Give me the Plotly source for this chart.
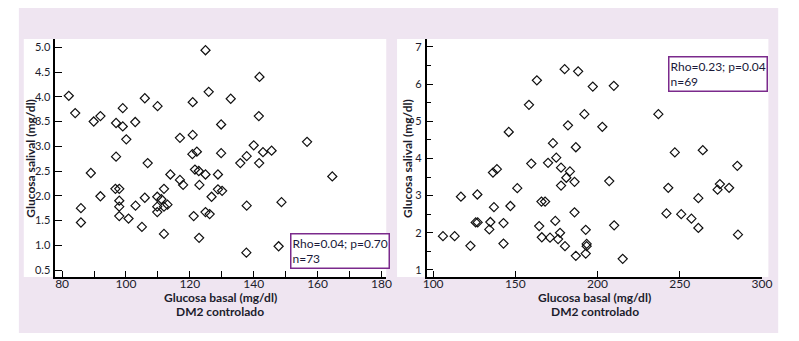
import plotly.graph_objects as go

# ---- Left panel data (Glucosa basal vs Glucosa salival) ----
left_x = [82.1, 84.1, 89.9, 92.0, 96.9, 99.0, 99.0, 102.9, 100.1, 105.9, 109.9, 96.9, 106.8, 89.0,
          124.9, 125.9, 120.9, 132.8, 141.8, 129.8, 141.6, 116.9, 120.9, 120.8, 122.2, 129.8, 140.0,
          137.8, 135.8, 142.9, 145.6, 141.7, 156.7, 164.6, 113.9, 116.9, 121.6, 122.8, 124.9, 128.8,
          117.9, 123.0, 128.8, 130.1, 126.8, 124.9, 126.2, 121.2, 122.9, 137.8, 137.7, 147.8, 148.7,
          85.9, 85.9, 92.0, 96.7, 97.9, 97.9, 97.9, 97.9, 103.0, 100.8, 105.9, 105.0, 109.8, 109.8,
          109.8, 111.1, 111.9, 111.9, 113.0, 111.9]
left_y = [4.02, 3.67, 3.50, 3.61, 3.47, 3.77, 3.40, 3.49, 3.14, 3.97, 3.81, 2.79, 2.66, 2.46,
          4.94, 4.10, 3.89, 3.96, 4.40, 3.44, 3.61, 3.17, 3.23, 2.84, 2.89, 2.86, 3.02,
          2.80, 2.66, 2.88, 2.91, 2.66, 3.09, 2.39, 2.43, 2.32, 2.53, 2.50, 2.43, 2.43,
          2.22, 2.22, 2.13, 2.10, 1.98, 1.67, 1.63, 1.59, 1.15, 1.80, 0.85, 0.98, 1.87,
          1.75, 1.46, 1.99, 2.14, 2.14, 1.90, 1.78, 1.59, 1.80, 1.54, 1.96, 1.37, 1.98, 1.78,
          1.67, 1.93, 2.14, 1.78, 1.82, 1.23]

# ---- Right panel data ----
right_x = [180.0, 188.2, 163.1, 197.1, 209.9, 158.3, 192.0, 237.0, 182.0, 202.9, 146.0, 172.9,
           186.8, 247.0, 264.0, 285.0, 159.7, 169.9, 174.9, 177.8, 183.2, 136.4, 138.8, 177.8,
           181.0, 186.0, 207.1, 151.2, 116.9, 126.9, 137.0, 147.0, 165.9, 168.1, 186.0, 106.0,
           113.1, 122.7, 125.9, 127.1, 134.8, 134.2, 142.8, 142.8, 164.5, 166.1, 174.3, 171.1,
           177.2, 176.0, 180.2, 186.8, 192.8, 192.8, 193.4, 193.4, 210.1, 215.3, 243.0, 241.9,
           250.9, 257.1, 261.3, 261.3, 273.0, 274.4, 280.0, 285.4]
right_y = [6.40, 6.34, 6.10, 5.93, 5.95, 5.44, 5.19, 5.19, 4.89, 4.85, 4.71, 4.41,
           4.30, 4.16, 4.22, 3.80, 3.86, 3.88, 4.02, 3.75, 3.65, 3.62, 3.71, 3.27,
           3.48, 3.37, 3.39, 3.20, 2.97, 3.03, 2.69, 2.72, 2.84, 2.84, 2.55, 1.91,
           1.91, 1.65, 2.28, 2.28, 2.29, 2.09, 2.26, 1.71, 2.18, 1.88, 2.32, 1.87,
           2.00, 1.83, 1.64, 1.38, 2.08, 1.44, 1.70, 1.64, 2.20, 1.30, 3.21, 2.52,
           2.50, 2.38, 2.93, 2.13, 3.16, 3.31, 3.21, 1.95]

left_xticks = [80, 100, 120, 140, 160, 180]
left_yticks = [0.5, 1.0, 1.5, 2.0, 2.5, 3.0, 3.5, 4.0, 4.5, 5.0]
right_xticks = [100, 150, 200, 250, 300]
right_yticks = [1, 2, 3, 4, 5, 6, 7]

x_title_1 = "Glucosa basal (mg/dl)"
x_title_2 = "DM2 controlado"
y_title = "Glucosa salival (mg/dl)"
left_stats = "Rho=0.04; p=0.70<br>n=73"
right_stats = "Rho=0.23; p=0.04<br>n=69"

# page body has an 8px margin: size the figure so it fits the 799x341 window
OFF = 8
W, H = 799 - OFF, 341 - OFF
FONT = "Lato"
TXT = "#1c1c2c"
LAV = "#efe5f1"
PURPLE = "#7b2a8c"


def px(x):
    return (x - OFF) / W


def py(y):
    return 1 - (y - OFF) / H


marker = dict(symbol="diamond-open", size=7, color="#111111", line=dict(width=1.2, color="#111111"))

fig = go.Figure()
fig.add_trace(go.Scatter(x=left_x, y=left_y, mode="markers", marker=marker,
                         xaxis="x", yaxis="y", showlegend=False, hoverinfo="x+y"))
fig.add_trace(go.Scatter(x=right_x, y=right_y, mode="markers", marker=marker,
                         xaxis="x2", yaxis="y2", showlegend=False, hoverinfo="x+y"))

axis_common = dict(showgrid=False, zeroline=False, showline=True, linecolor="black",
                   linewidth=1.5, ticks="inside", tickcolor="black", tickwidth=1.2)
xfont = dict(family=FONT, size=12, color=TXT)
yfont = dict(family=FONT, size=11, color=TXT)

fig.update_layout(
    width=W, height=H,
    margin=dict(l=0, r=0, t=0, b=0),
    paper_bgcolor="white",
    plot_bgcolor="white",
    font=dict(family=FONT, color=TXT),
    xaxis=dict(domain=[px(52), px(389)], anchor="y", range=[77.85, 181.5],
               tickvals=left_xticks, ticklen=6, tickfont=xfont, ticklabelstandoff=-5,
               minor=dict(dtick=10, tick0=80, ticks="inside", ticklen=6, tickcolor="black", tickwidth=1.2),
               **axis_common),
    yaxis=dict(domain=[py(276.5), py(39)], anchor="x", range=[0.369, 5.167],
               tickvals=left_yticks, tickformat=".1f", ticklen=7, tickfont=yfont, ticklabelstandoff=1,
               **axis_common),
    xaxis2=dict(domain=[px(430), px(772)], anchor="y2", range=[96.0, 300.3],
                tickvals=right_xticks, ticklen=6, tickfont=xfont, ticklabelstandoff=-5, **axis_common),
    yaxis2=dict(domain=[py(276.5), py(39)], anchor="x2", range=[0.825, 7.21],
                tickvals=right_yticks, ticklen=7, tickfont=yfont, ticklabelstandoff=1,
                minor=dict(dtick=0.5, tick0=1, ticks="inside", ticklen=5, tickcolor="black", tickwidth=1.2),
                **axis_common),
    shapes=[
        dict(type="rect", xref="paper", yref="paper", x0=px(15), x1=px(788), y0=py(333), y1=py(8),
             fillcolor=LAV, line=dict(width=0), layer="below"),
        dict(type="rect", xref="paper", yref="paper", x0=px(20), x1=px(389), y0=py(277), y1=py(39),
             fillcolor="white", line=dict(width=0), layer="below"),
        dict(type="rect", xref="paper", yref="paper", x0=px(400), x1=px(778), y0=py(277), y1=py(39),
             fillcolor="white", line=dict(width=0), layer="below"),
    ],
)

title_font = dict(family=FONT, size=12, color=TXT, weight="bold")
annots = []
for cx in (220, 601):
    annots.append(dict(text=x_title_1, x=px(cx), y=py(297.5), xref="paper", yref="paper", showarrow=False,
                       xanchor="center", yanchor="middle", font=title_font))
    annots.append(dict(text=x_title_2, x=px(cx), y=py(311.5), xref="paper", yref="paper", showarrow=False,
                       xanchor="center", yanchor="middle", font=title_font))
for cx in (26, 410):
    annots.append(dict(text=y_title, x=px(cx), y=py(158), xref="paper", yref="paper", showarrow=False,
                       textangle=-90, xanchor="center", yanchor="middle", font=title_font))
annots += [
    dict(text=left_stats, x=px(291.5), y=py(232.5), xref="paper", yref="paper", showarrow=False,
         xanchor="left", yanchor="top", align="left", bgcolor="white", bordercolor=PURPLE,
         borderwidth=1.5, borderpad=1, font=dict(family=FONT, size=12, color="#1a1a3a")),
    dict(text=right_stats, x=px(675.5), y=py(56), xref="paper", yref="paper", showarrow=False,
         xanchor="left", yanchor="top", align="left", bgcolor="white", bordercolor=PURPLE,
         borderwidth=1.5, borderpad=1, font=dict(family=FONT, size=12, color="#1a1a3a")),
]
fig.update_layout(annotations=annots)

fig.write_html("out.html")
